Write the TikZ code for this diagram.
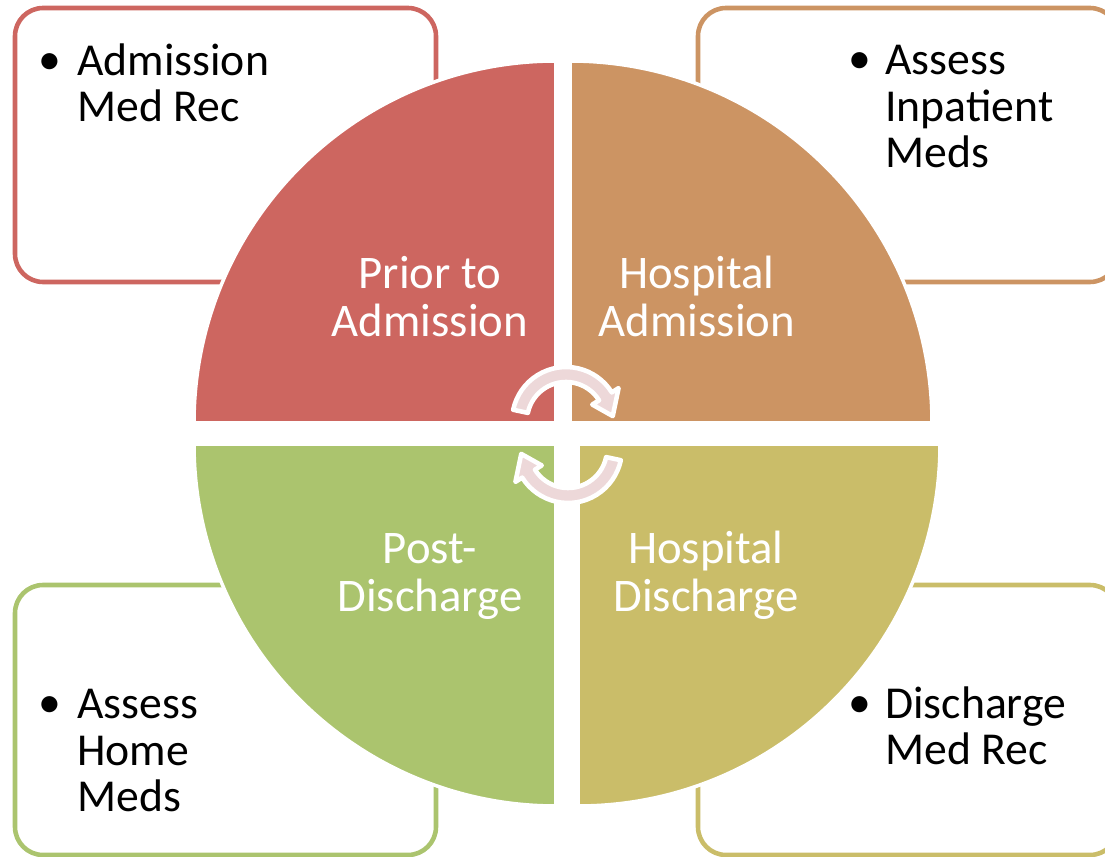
\documentclass[tikz,border=0pt]{standalone}
\usepackage{fontspec}
\setmainfont{Carlito}
\definecolor{redq}{HTML}{CD6660}
\definecolor{orangeq}{HTML}{CC9463}
\definecolor{greenq}{HTML}{ABC46E}
\definecolor{oliveq}{HTML}{CABD69}
\definecolor{cyclepink}{HTML}{EDD8D9}
\begin{document}
\begin{tikzpicture}[font=\fontsize{26}{26.6}\selectfont,
  note/.style={line width=2.6pt, rounded corners=16pt, fill=white},
  quad/.style={draw=white, line width=2pt},
  phase/.style={text=white, align=center, anchor=base, inner sep=0pt, font=\fontsize{26.6}{27.8}\selectfont},
  item/.style={align=left, anchor=base west, inner sep=0pt},
  dot/.style={anchor=base, inner sep=0pt},
  turn/.style={fill=cyclepink, draw=white, line width=2.6pt, line join=round}]

  \useasboundingbox (0,0) rectangle (22.1,17.14);

  % note boxes behind the wheel
  \draw[note, draw=redq] (0.30,11.50) rectangle (8.72,16.98);
  \draw[note, draw=orangeq] (13.96,11.50) rectangle (22.36,16.98);
  \draw[note, draw=greenq] (0.30,0.04) rectangle (8.72,5.44);
  \draw[note, draw=oliveq] (13.96,0.04) rectangle (22.36,5.44);

  % wheel quarters
  \filldraw[quad, fill=redq] (11.12,8.68) -- ++(-7.24,0) arc[start angle=180, end angle=90, radius=7.24] -- cycle;
  \filldraw[quad, fill=orangeq] (11.40,8.68) -- ++(0,7.24) arc[start angle=90, end angle=0, radius=7.24] -- cycle;
  \filldraw[quad, fill=greenq] (11.12,8.26) -- ++(0,-7.24) arc[start angle=270, end angle=180, radius=7.24] -- cycle;
  \filldraw[quad, fill=oliveq] (11.56,8.26) -- ++(7.24,0) arc[start angle=0, end angle=-90, radius=7.24] -- cycle;

  % phase names (placed at the last baseline)
  \node[phase] (pre) at (8.60,10.40) {Prior to\\Admission};
  \node[phase] (adm) at (13.94,10.40) {Hospital\\Admission};
  \node[phase] (post) at (8.60,4.90) {Post-\\Discharge};
  \node[phase] (dis) at (14.12,4.90) {Hospital\\Discharge};

  % turning arrows in the middle
  \foreach \c/\r in {{11.32,8.72}/0, {11.36,8.16}/180}
    \draw[turn, shift={(\c)}, rotate=\r] (168:0.78) arc[start angle=168, end angle=32, radius=0.78]
      -- (32:0.62) -- (6:0.94) -- (32:1.24) -- (32:1.08) arc[start angle=32, end angle=168, radius=1.08] -- cycle;

  % bullet notes
  \node[dot] (d1) at (1.00,15.64) {•};
  \node[item] (n1) at (1.54,14.70) {Admission\\Med Rec};
  \node[dot] (d2) at (17.20,15.66) {•};
  \node[item] (n2) at (17.70,13.78) {Assess\\Inpatient\\Meds};
  \node[dot] (d3) at (1.00,2.78) {•};
  \node[item] (n3) at (1.54,0.90) {Assess\\Home\\Meds};
  \node[dot] (d4) at (17.20,2.78) {•};
  \node[item] (n4) at (17.70,1.84) {Discharge\\Med Rec};

\end{tikzpicture}
\end{document}
